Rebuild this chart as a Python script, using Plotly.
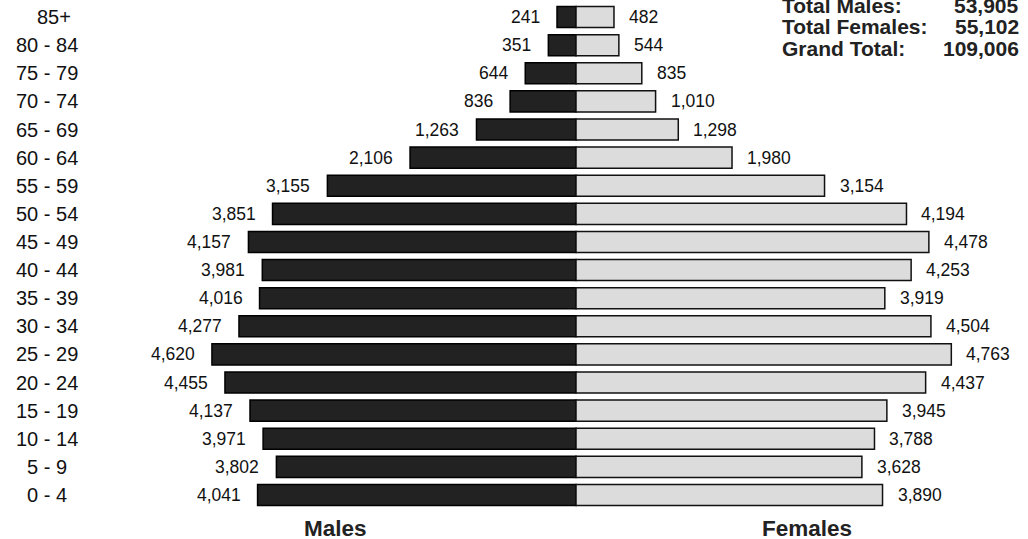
import plotly.graph_objects as go

age_groups = ["0 - 4", "5 - 9", "10 - 14", "15 - 19", "20 - 24", "25 - 29", "30 - 34",
              "35 - 39", "40 - 44", "45 - 49", "50 - 54", "55 - 59", "60 - 64",
              "65 - 69", "70 - 74", "75 - 79", "80 - 84", "85+"]
males = [4041, 3802, 3971, 4137, 4455, 4620, 4277, 4016, 3981, 4157, 3851, 3155, 2106,
         1263, 836, 644, 351, 241]
females = [3890, 3628, 3788, 3945, 4437, 4763, 4504, 3919, 4253, 4478, 4194, 3154, 1980,
           1298, 1010, 835, 544, 482]
total_labels = ["Total Males:", "Total Females:", "Grand Total:"]
total_values = [53905, 55102, 109006]

W, H = 1028, 539
ML, MR, MT, MB = 0, 0, 3, 30
ph = H - MT - MB

def py(p):  # pixel y -> paper y
    return (H - MB - p) / ph

def px(p):
    return p / W

FONT = "Liberation Sans, Arial, sans-serif"
fig = go.Figure()
fig.add_trace(go.Bar(y=age_groups, x=[-v for v in males], orientation="h",
                     marker=dict(color="#222222", line=dict(color="#000000", width=1.5)),
                     hoverinfo="skip", name="Males"))
fig.add_trace(go.Bar(y=age_groups, x=females, orientation="h",
                     marker=dict(color="#dcdcdc", line=dict(color="#111111", width=1.5)),
                     hoverinfo="skip", name="Females"))

ann = []
for i, a in enumerate(age_groups):
    ann.append(dict(x=px(47), y=a, xref="paper", yref="y", text=a, showarrow=False,
                    xanchor="center", xshift=7 if a == "85+" else 0,
                    font=dict(size=20, color="#111111", family=FONT)))
    ann.append(dict(x=-males[i], y=a, xref="x", yref="y", text=f"{males[i]:,}", showarrow=False,
                    xanchor="right", xshift=-15, font=dict(size=17.5, color="#111111", family=FONT)))
    ann.append(dict(x=females[i], y=a, xref="x", yref="y", text=f"{females[i]:,}", showarrow=False,
                    xanchor="left", xshift=13, font=dict(size=17.5, color="#111111", family=FONT)))

ann.append(dict(x=px(335), y=py(528), xref="paper", yref="paper", text="<b>Males</b>",
                showarrow=False, xanchor="center", yanchor="middle",
                font=dict(size=22.5, color="#222222", family=FONT)))
ann.append(dict(x=px(807), y=py(528), xref="paper", yref="paper", text="<b>Females</b>",
                showarrow=False, xanchor="center", yanchor="middle",
                font=dict(size=22.5, color="#222222", family=FONT)))

for j, (lab, val) in enumerate(zip(total_labels, total_values)):
    yy = 6 + j * 21
    ann.append(dict(x=px(780), y=py(yy), xref="paper", yref="paper", text=f"<b>{lab}</b>",
                    showarrow=False, xanchor="left", yanchor="middle",
                    font=dict(size=21, color="#222222", family=FONT)))
    ann.append(dict(x=px(1021), y=py(yy), xref="paper", yref="paper", text=f"<b>{val:,}</b>",
                    showarrow=False, xanchor="right", yanchor="middle",
                    font=dict(size=21, color="#222222", family=FONT)))

scale = 0.0788  # px per person
fig.update_layout(
    width=W, height=H, barmode="relative", bargap=0.25, showlegend=False,
    margin=dict(l=ML, r=MR, t=MT, b=MB),
    plot_bgcolor="white", paper_bgcolor="white",
    xaxis=dict(range=[-576 / scale, (W - 576) / scale], visible=False, fixedrange=True),
    yaxis=dict(categoryorder="array", categoryarray=age_groups, range=[-0.5, 17.5],
               visible=False, fixedrange=True),
    annotations=ann,
)
fig.write_html("out.html", config={"displayModeBar": False},
               post_script="document.body.style.margin='0';document.body.style.overflow='hidden';")
